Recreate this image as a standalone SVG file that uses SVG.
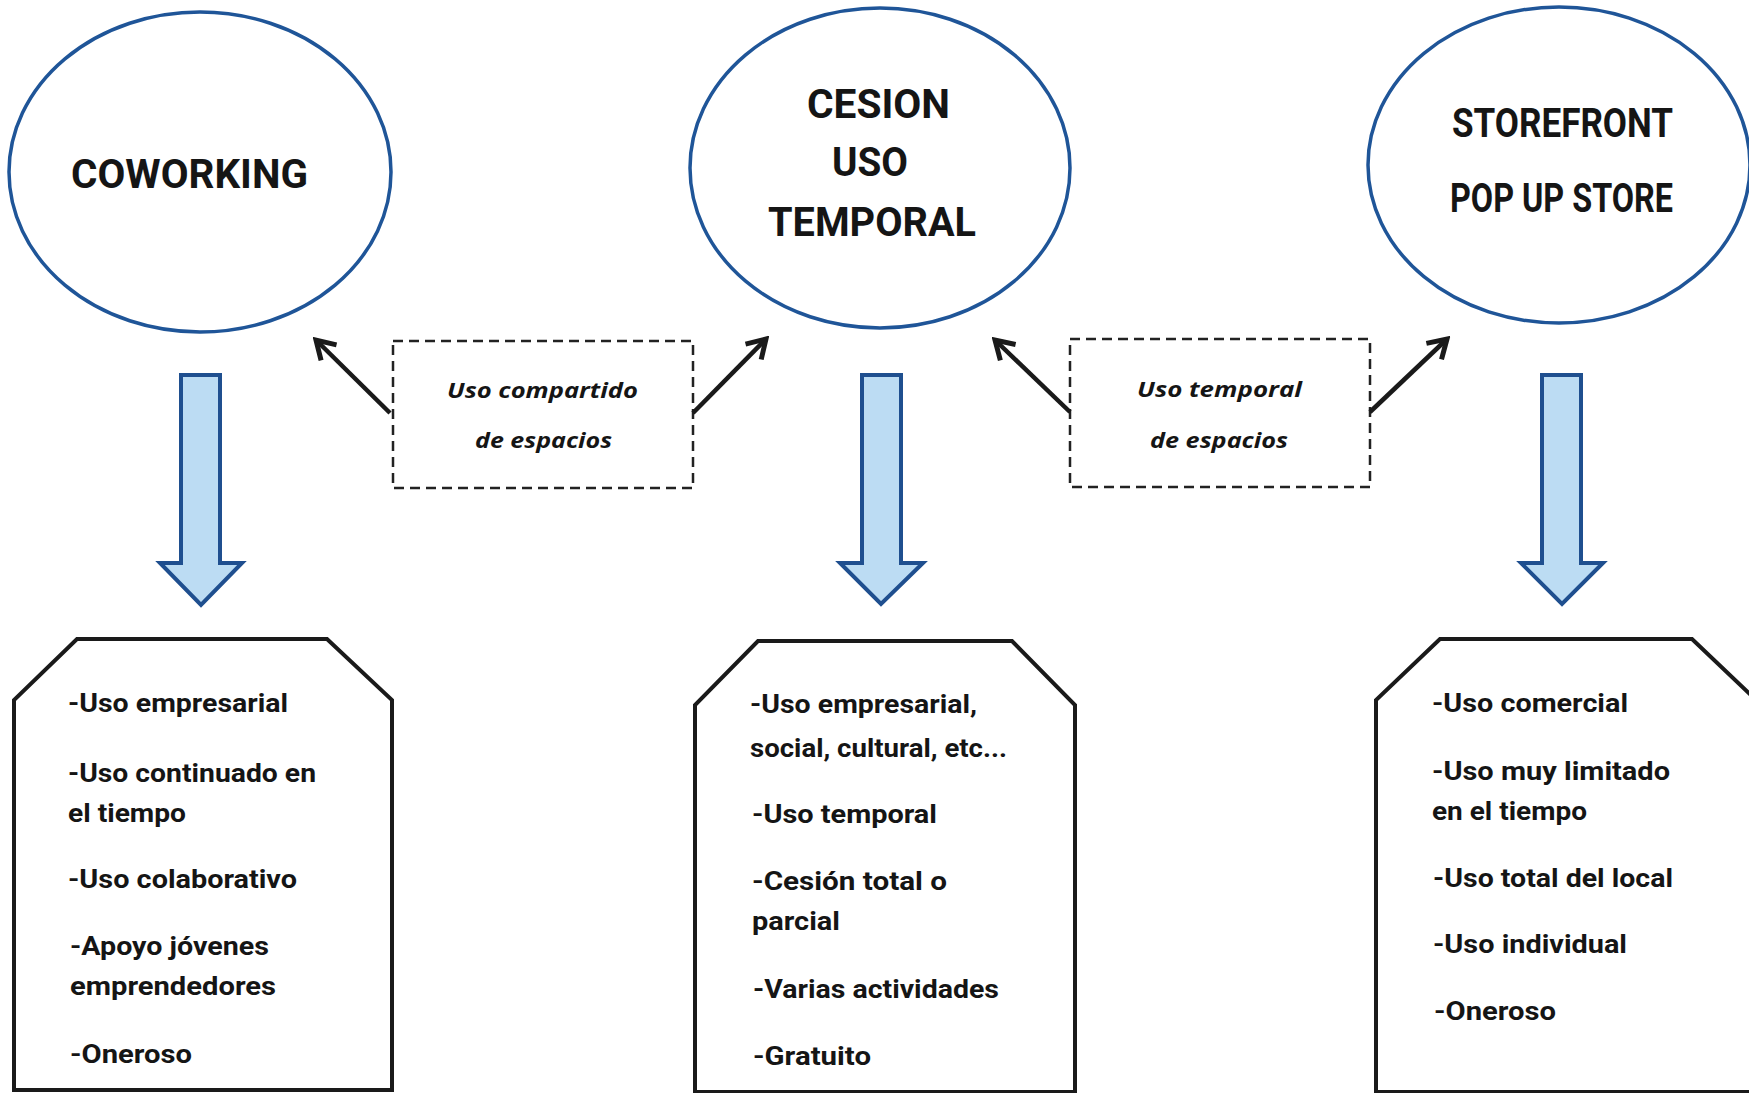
<svg xmlns="http://www.w3.org/2000/svg" width="1749" height="1093" viewBox="0 0 1749 1093">
<style>
.circ{fill:#fff;stroke:#1f5598;stroke-width:3.5}
.title{font-family:Roboto,"Liberation Sans",sans-serif;font-weight:700;font-size:41px;fill:#151515}
.body{font-family:Roboto,"Liberation Sans",sans-serif;font-weight:700;font-size:25px;fill:#151515}
.lab{font-family:"Open Sans","Liberation Sans",sans-serif;font-weight:700;font-style:italic;font-size:22px;fill:#151515}
.dash{fill:none;stroke:#222;stroke-width:2.5;stroke-dasharray:10 6}
.oct{fill:#fff;stroke:#1a1a1a;stroke-width:4;stroke-linejoin:miter}
.blk{fill:#bcdcf3;stroke:#1f4f8f;stroke-width:4;stroke-linejoin:miter}
.conn{stroke:#1a1a1a;stroke-width:4.5;fill:none;marker-end:url(#ah)}
</style>
<defs>
<marker id="ah" viewBox="-26 -16 30 32" refX="0" refY="0" markerWidth="30" markerHeight="32" orient="auto" markerUnits="userSpaceOnUse">
<path d="M-18,-11 L0,0 L-18,11" fill="none" stroke="#1a1a1a" stroke-width="5" stroke-linejoin="miter"/>
</marker>
</defs>
<rect width="1749" height="1093" fill="#fff"/>

<g id="coworking">
<ellipse class="circ" cx="200" cy="172" rx="191" ry="160"/>
<text class="title" x="71" y="188" textLength="237" lengthAdjust="spacingAndGlyphs">COWORKING</text>
</g>
<g id="cesion">
<ellipse class="circ" cx="880" cy="168" rx="190" ry="160"/>
<text class="title" x="807" y="118" textLength="143" lengthAdjust="spacingAndGlyphs">CESION</text>
<text class="title" x="832" y="176" textLength="76" lengthAdjust="spacingAndGlyphs">USO</text>
<text class="title" x="768" y="236" textLength="208" lengthAdjust="spacingAndGlyphs">TEMPORAL</text>
</g>
<g id="storefront">
<ellipse class="circ" cx="1559" cy="165" rx="191" ry="158"/>
<text class="title" x="1452" y="137" textLength="221" lengthAdjust="spacingAndGlyphs">STOREFRONT</text>
<text class="title" x="1450" y="212" textLength="223" lengthAdjust="spacingAndGlyphs">POP UP STORE</text>
</g>

<g id="label-compartido">
<rect class="dash" x="393" y="341" width="300" height="147"/>
<text class="lab" x="447" y="398" textLength="191" lengthAdjust="spacingAndGlyphs">Uso compartido</text>
<text class="lab" x="475" y="448" textLength="137" lengthAdjust="spacingAndGlyphs">de espacios</text>
</g>
<g id="label-temporal">
<rect class="dash" x="1070" y="339" width="300" height="148"/>
<text class="lab" x="1137" y="397" textLength="165" lengthAdjust="spacingAndGlyphs">Uso temporal</text>
<text class="lab" x="1150" y="448" textLength="138" lengthAdjust="spacingAndGlyphs">de espacios</text>
</g>

<g id="connectors">
<line class="conn" x1="390" y1="413" x2="316" y2="340"/>
<line class="conn" x1="693" y1="413" x2="766" y2="339"/>
<line class="conn" x1="1070" y1="412" x2="995" y2="340"/>
<line class="conn" x1="1370" y1="412" x2="1447" y2="339"/>
<path class="blk" d="M181,375 H220 V563 H242 L201,605 L160,563 H181 Z"/>
<path class="blk" d="M862,375 H901 V563 H923 L881,604 L840,563 H862 Z"/>
<path class="blk" d="M1542,375 H1581 V563 H1603 L1562,604 L1521,563 H1542 Z"/>
</g>

<g id="box-coworking">
<path class="oct" d="M14,1090 V700 L77,639 H327 L392,700 V1090 Z"/>
<text class="body" x="68" y="712" textLength="220" lengthAdjust="spacingAndGlyphs">-Uso empresarial</text>
<text class="body" x="68" y="782" textLength="248" lengthAdjust="spacingAndGlyphs">-Uso continuado en</text>
<text class="body" x="68" y="822" textLength="118" lengthAdjust="spacingAndGlyphs">el tiempo</text>
<text class="body" x="68" y="888" textLength="229" lengthAdjust="spacingAndGlyphs">-Uso colaborativo</text>
<text class="body" x="70" y="955" textLength="199" lengthAdjust="spacingAndGlyphs">-Apoyo jóvenes</text>
<text class="body" x="70" y="995" textLength="206" lengthAdjust="spacingAndGlyphs">emprendedores</text>
<text class="body" x="70" y="1063" textLength="122" lengthAdjust="spacingAndGlyphs">-Oneroso</text>
</g>
<g id="box-cesion">
<path class="oct" d="M695,1092 V705 L758,641 H1012 L1075,705 V1092 Z"/>
<text class="body" x="750" y="713" textLength="227" lengthAdjust="spacingAndGlyphs">-Uso empresarial,</text>
<text class="body" x="750" y="757" textLength="257" lengthAdjust="spacingAndGlyphs">social, cultural, etc...</text>
<text class="body" x="752" y="823" textLength="185" lengthAdjust="spacingAndGlyphs">-Uso temporal</text>
<text class="body" x="752" y="890" textLength="195" lengthAdjust="spacingAndGlyphs">-Cesión  total  o</text>
<text class="body" x="752" y="930" textLength="88" lengthAdjust="spacingAndGlyphs">parcial</text>
<text class="body" x="753" y="998" textLength="246" lengthAdjust="spacingAndGlyphs">-Varias actividades</text>
<text class="body" x="753" y="1065" textLength="118" lengthAdjust="spacingAndGlyphs">-Gratuito</text>
</g>
<g id="box-storefront">
<path class="oct" d="M1376,1092 V700 L1440,639 H1692 L1756,700 V1092 Z"/>
<text class="body" x="1432" y="712" textLength="196" lengthAdjust="spacingAndGlyphs">-Uso comercial</text>
<text class="body" x="1432" y="780" textLength="238" lengthAdjust="spacingAndGlyphs">-Uso muy  limitado</text>
<text class="body" x="1432" y="820" textLength="155" lengthAdjust="spacingAndGlyphs">en el tiempo</text>
<text class="body" x="1433" y="887" textLength="240" lengthAdjust="spacingAndGlyphs">-Uso total del local</text>
<text class="body" x="1433" y="953" textLength="194" lengthAdjust="spacingAndGlyphs">-Uso individual</text>
<text class="body" x="1434" y="1020" textLength="122" lengthAdjust="spacingAndGlyphs">-Oneroso</text>
</g>
</svg>
